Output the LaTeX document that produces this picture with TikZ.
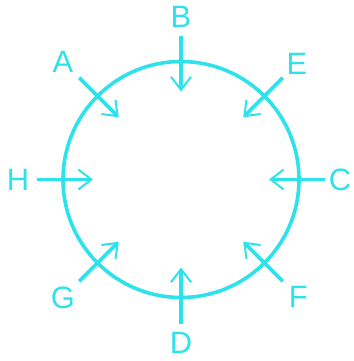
\documentclass[tikz,border=0pt]{standalone}
\usepackage{fontspec}
\setmainfont{Liberation Sans}
\usetikzlibrary{arrows.meta}
\definecolor{cyanline}{RGB}{45,226,234}
\tikzset{
  pointer/.style={draw=cyanline, line width=3.6bp,
    -{Straight Barb[length=13bp,width=20bp,line width=2bp]}},
  letter/.style={text=cyanline, font=\fontsize{31}{31}\selectfont, inner sep=0pt}
}
\begin{document}
\begin{tikzpicture}[x=1bp, y=1bp]
\useasboundingbox (-181,-181.5) rectangle (173,179.5);
\draw[cyanline, line width=3.6bp] (0,0) circle (118);
\foreach \ang/\lab/\rad in {90/B/163, 45/E/164, 0/C/159, -45/F/166, -90/D/163, -135/G/167, 180/H/163, 135/A/167}{
  \node[letter] (lab\lab) at (\ang:\rad) {\lab};
  \coordinate (s\lab) at (\ang:144);
  \coordinate (t\lab) at (\ang:88);
  \draw[pointer] (s\lab) -- (t\lab);
}
\end{tikzpicture}
\end{document}
